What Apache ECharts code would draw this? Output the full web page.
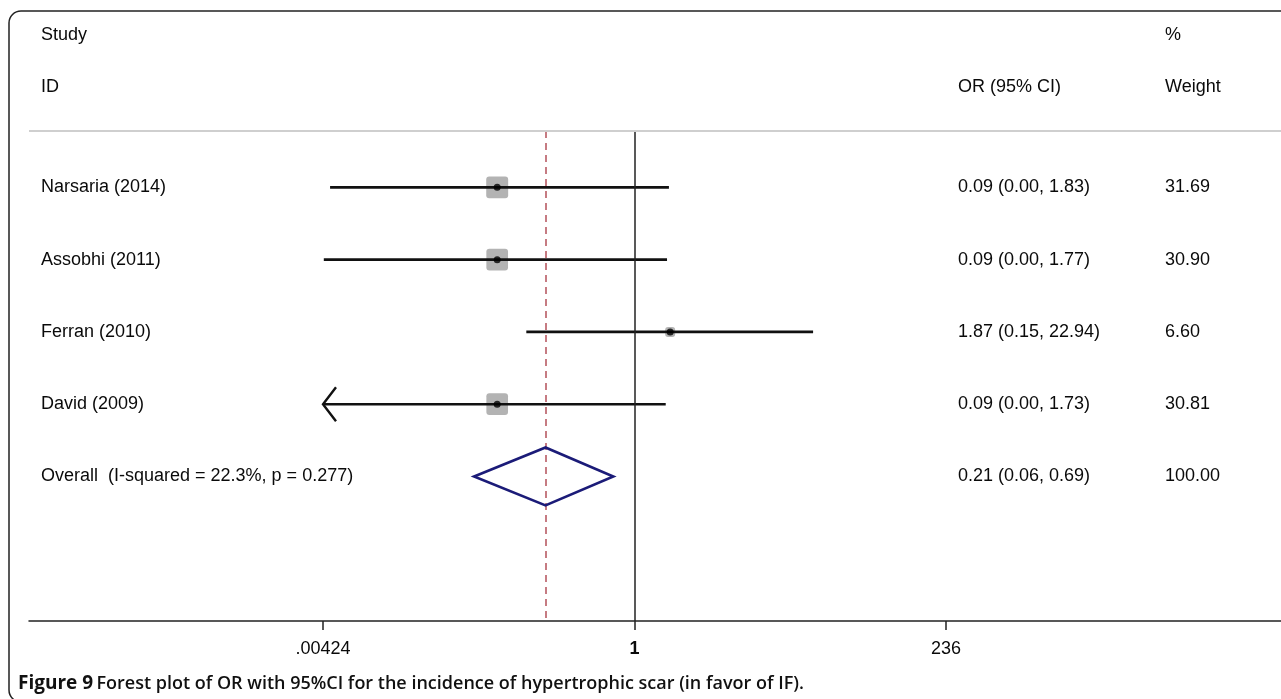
<!DOCTYPE html>
<html>
<head>
<meta charset="utf-8">
<script src="https://cdn.jsdelivr.net/npm/echarts@6/dist/echarts.min.js"></script>
<style>
html,body{margin:0;padding:0;background:#fff;}
#chart{width:1281px;height:699px;}
</style>
</head>
<body>
<div id="chart"></div>
<script>
// ---- data ----
const studies = ['Narsaria (2014)', 'Assobhi (2011)', 'Ferran (2010)', 'David (2009)'];
const orEst   = [0.09, 0.09, 1.87, 0.09];
const ciLow   = [0.0048, 0.0043, 0.15, 0.0030];
const ciHigh  = [1.83, 1.77, 22.94, 1.73];
const weights = [31.69, 30.90, 6.60, 30.81];
const overallLabel = 'Overall  (I-squared = 22.3%, p = 0.277)';
const overallEst = 0.21;
const overallLow = 0.06;
const overallHigh = 0.69;
const overallWeight = 100.00;
const xTickValues = [0.00424, 1, 236];
const xTickLabels = ['.00424', '1', '236'];
const captionBold = 'Figure 9';
const captionText = 'Forest plot of OR with 95%CI for the incidence of hypertrophic scar (in favor of IF).';

// ---- layout / style ----
const FONT = '"Liberation Sans", Arial, sans-serif';
const FS = 18;
const TXT = '#0a0a0a';
const XMIN = -10.62, XMAX = 11.34;
const YMIN = -0.78, YMAX = 6;
const axisCut = Math.log(xTickValues[0]);
const ln = Math.log;

const chart = echarts.init(document.getElementById('chart'), null, {renderer: 'canvas'});

const rowsIdx = studies.map((s, i) => i);
const fmt = v => v.toFixed(2);
const ciStrings = studies.map((s, i) => fmt(orEst[i]) + ' (' + fmt(ciLow[i]) + ', ' + fmt(ciHigh[i]) + ')');
const textRows = studies.map((s, i) => [i, s, ciStrings[i], fmt(weights[i])]);
textRows.push([studies.length, overallLabel,
  fmt(overallEst) + ' (' + fmt(overallLow) + ', ' + fmt(overallHigh) + ')', fmt(overallWeight)]);

function txt(x, y, s, extra) {
  return Object.assign({type: 'text', x: x, y: y, style: {text: s, fontSize: FS, fontFamily: FONT, fill: TXT, align: 'left', verticalAlign: 'middle'}}, extra || {});
}

const option = {
  animation: false,
  backgroundColor: '#fff',
  grid: {left: 29, right: 0, top: 131, bottom: 78, containLabel: false},
  xAxis: {
    type: 'value', min: XMIN, max: XMAX,
    axisLine: {show: true, onZero: false, lineStyle: {color: '#222', width: 1.5}},
    axisTick: {show: true, customValues: xTickValues.map(ln), length: 9, lineStyle: {color: '#222', width: 1.5}},
    axisLabel: {
      show: true, customValues: xTickValues.map(ln), margin: 19,
      fontSize: FS, fontFamily: FONT, color: TXT,
      formatter: function (v) {
        let best = 0, bd = Infinity;
        xTickValues.forEach((t, k) => { const d = Math.abs(ln(t) - v); if (d < bd) { bd = d; best = k; } });
        return xTickLabels[best] === '1' ? '{b|1}' : xTickLabels[best];
      },
      rich: {b: {fontSize: FS, fontFamily: FONT, color: TXT, fontWeight: 'bold'}}
    },
    splitLine: {show: false}
  },
  yAxis: {type: 'value', inverse: true, min: YMIN, max: YMAX, show: false, splitLine: {show: false}},
  series: [
    // weight squares
    {
      type: 'custom', z: 2,
      data: rowsIdx.map(i => [ln(orEst[i]), i, weights[i]]),
      renderItem: function (params, api) {
        const p = api.coord([api.value(0), api.value(1)]);
        const s = 3.9 * Math.sqrt(api.value(2));
        return {type: 'rect', shape: {x: p[0] - s / 2, y: p[1] - s / 2, width: s, height: s, r: 3},
                style: {fill: '#b3b3b3'}};
      }
    },
    // CI lines (with arrows where clipped)
    {
      type: 'custom', z: 3,
      data: rowsIdx.map(i => [ln(ciLow[i]), ln(ciHigh[i]), i]),
      renderItem: function (params, api) {
        let lo = api.value(0), hi = api.value(1);
        const row = api.value(2);
        const clipped = lo < axisCut;
        if (clipped) lo = axisCut;
        const a = api.coord([lo, row]), b = api.coord([hi, row]);
        const children = [{type: 'line', shape: {x1: a[0], y1: a[1], x2: b[0], y2: b[1]},
                           style: {stroke: '#111', lineWidth: 2.6}}];
        if (clipped) {
          children.push({type: 'polyline', shape: {points: [[a[0] + 13, a[1] - 17], [a[0], a[1]], [a[0] + 13, a[1] + 17]]},
                         style: {stroke: '#111', lineWidth: 2.4, fill: null}});
        }
        return {type: 'group', children: children};
      }
    },
    // point estimates
    {
      type: 'scatter', z: 4, symbol: 'circle', symbolSize: 7,
      itemStyle: {color: '#000'},
      data: rowsIdx.map(i => [ln(orEst[i]), i]),
      markLine: {
        silent: true, symbol: ['none', 'none'], label: {show: false},
        data: [
          {xAxis: 0, lineStyle: {color: '#222', width: 1.5, type: 'solid'}},
          {xAxis: ln(overallEst), lineStyle: {color: '#b4505a', width: 1.5, type: [7, 5]}},
          {yAxis: YMIN, lineStyle: {color: '#cfcfcf', width: 2, type: 'solid'}}
        ]
      }
    },
    // overall diamond
    {
      type: 'custom', z: 5,
      data: [[ln(overallLow), ln(overallEst), ln(overallHigh), studies.length]],
      renderItem: function (params, api) {
        const row = api.value(3);
        const l = api.coord([api.value(0), row]);
        const m = api.coord([api.value(1), row]);
        const r = api.coord([api.value(2), row]);
        const h = 29;
        return {type: 'polygon', shape: {points: [[l[0], l[1]], [m[0], m[1] - h], [r[0], r[1]], [m[0], m[1] + h]]},
                style: {stroke: '#1b1b78', lineWidth: 2.6, fill: 'none'}};
      }
    },
    // text columns
    {
      type: 'custom', z: 6, clip: false,
      data: textRows.map(r => [0, r[0]]),
      renderItem: function (params, api) {
        const r = textRows[params.dataIndex];
        const y = api.coord([0, r[0]])[1];
        return {type: 'group', children: [txt(41, y, r[1]), txt(958, y, r[2]), txt(1165, y, r[3])]};
      }
    }
  ],
  graphic: [
    {type: 'rect', shape: {x: 9, y: 11, width: 1320, height: 691, r: 12},
     style: {fill: 'none', stroke: '#222', lineWidth: 1.5}, z: 0, silent: true},
    txt(41, 35, 'Study'), txt(41, 87, 'ID'),
    txt(958, 87, 'OR (95% CI)'), txt(1165, 35, '%'), txt(1165, 87, 'Weight'),
    {type: 'text', x: 18, y: 684,
     style: {text: '{b|' + captionBold + '} {n|' + captionText + '}', verticalAlign: 'middle', align: 'left',
             rich: {b: {fontSize: 19, fontFamily: '"Open Sans", sans-serif', fontWeight: 'bold', fill: '#111'},
                    n: {fontSize: 18, fontFamily: '"Open Sans", sans-serif', fontWeight: 600, fill: '#111'}}}}
  ]
};
chart.setOption(option);
</script>
</body>
</html>
